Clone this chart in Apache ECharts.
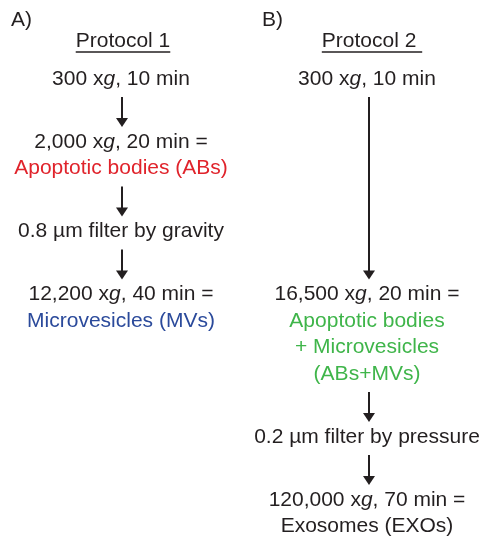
<!DOCTYPE html>
<html>
<head>
<meta charset="utf-8">
<script src="https://cdn.jsdelivr.net/npm/echarts@6/dist/echarts.min.js"></script>
<style>
  html, body { margin: 0; padding: 0; background: #fff; }
  #chart { width: 485px; height: 540px; }
</style>
</head>
<body>
<div id="chart"></div>
<script>
// 面板标签与标题
const panelLabels = ["A)", "B)"];
const protocolNames = ["Protocol 1", "Protocol 2 "];

// 每一步的文字行；{g|g} 为斜体 g，{ab|} {mv|} {mix|} 为彩色结果
const protocol1Steps = [
  ["300 x{g|g}, 10 min"],
  ["2,000 x{g|g}, 20 min =", "{ab|Apoptotic bodies (ABs)}"],
  ["0.8 µm filter by gravity"],
  ["12,200 x{g|g}, 40 min =", "{mv|Microvesicles (MVs)}"]
];
const protocol2Steps = [
  ["300 x{g|g}, 10 min"],
  ["16,500 x{g|g}, 20 min =", "{mix|Apoptotic bodies}", "{mix|+ Microvesicles}", "{mix|(ABs+MVs)}"],
  ["0.2 µm filter by pressure"],
  ["120,000 x{g|g}, 70 min =", "Exosomes (EXOs)"]
];

const FONT = "'Liberation Sans', Arial, Helvetica, sans-serif";
const FONT_SIZE = 21;
const DARK = "#231f20";
const RED = "#e0232b";
const BLUE = "#2b4a9b";
const GREEN = "#3fb54a";

// 布局（像素坐标，坐标轴与画布一一对应）
const COL_X = [121, 367];
const ARROW_X = [122, 369];
const HEADER_X = [123, 372];
const LABEL_X = [11, 262];
const LABEL_Y = 20.5;
const HEADER_Y = 41.5;
const TOP_Y = 79;
const LINE = 26.5;
const GAP = 63;

function layoutColumn(steps, alignTo) {
  let y = TOP_Y;
  const out = [];
  steps.forEach((lines, i) => {
    if (alignTo && alignTo[i] != null) y = alignTo[i];
    const last = y + (lines.length - 1) * LINE;
    out.push({ lines: lines, y0: y, y1: last });
    y = last + GAP;
  });
  return out;
}

const col1 = layoutColumn(protocol1Steps);
// protocol 2 第二步与 protocol 1 第四步同一行
const col2 = layoutColumn(protocol2Steps, { 1: col1[3].y0 });
const columns = [col1, col2];

const textData = [];
const arrowData = [];
columns.forEach((col, c) => {
  col.forEach((step, i) => {
    step.lines.forEach((t, k) => {
      textData.push([COL_X[c], step.y0 + k * LINE, t]);
    });
    if (i > 0) {
      arrowData.push([ARROW_X[c], col[i - 1].y1 + 18, step.y0 - 15]);
    }
  });
});

const headerData = protocolNames.map((t, c) => [HEADER_X[c], HEADER_Y, t]);
const labelData = panelLabels.map((t, c) => [LABEL_X[c], LABEL_Y, t]);

// 下划线宽度按文字实际宽度测量
const ctx = document.createElement("canvas").getContext("2d");
ctx.font = FONT_SIZE + "px " + FONT;
const underlineData = protocolNames.map((t, c) => {
  const w = ctx.measureText(t).width;
  return [HEADER_X[c] - w / 2, HEADER_X[c] + w / 2, 52];
});

const baseLabel = {
  show: true,
  position: "inside",
  color: DARK,
  fontSize: FONT_SIZE,
  fontFamily: FONT,
  align: "center",
  verticalAlign: "middle",
  formatter: p => p.data[2],
  rich: {
    g: { fontStyle: "italic", fontSize: FONT_SIZE, fontFamily: FONT, color: DARK },
    ab: { fontSize: FONT_SIZE, fontFamily: FONT, color: RED },
    mv: { fontSize: FONT_SIZE, fontFamily: FONT, color: BLUE },
    mix: { fontSize: FONT_SIZE, fontFamily: FONT, color: GREEN }
  }
};

const textSeries = (data, label) => ({
  type: "scatter",
  silent: true,
  symbolSize: 0,
  itemStyle: { opacity: 1 },
  data: data,
  label: label
});

const myChart = echarts.init(document.getElementById("chart"));
myChart.setOption({
  animation: false,
  grid: { left: 0, right: 0, top: 0, bottom: 0 },
  xAxis: { type: "value", min: 0, max: 485, show: false },
  yAxis: { type: "value", min: 0, max: 540, inverse: true, show: false },
  series: [
    textSeries(textData, baseLabel),
    textSeries(headerData, baseLabel),
    textSeries(labelData, Object.assign({}, baseLabel, { position: "insideLeft", align: "left", distance: 0 })),
    {
      type: "custom",
      silent: true,
      data: underlineData,
      renderItem(params, api) {
        const a = api.coord([api.value(0), api.value(2)]);
        const b = api.coord([api.value(1), api.value(2)]);
        return {
          type: "line",
          shape: { x1: a[0], y1: a[1], x2: b[0], y2: b[1] },
          style: { stroke: DARK, lineWidth: 1.3 }
        };
      }
    },
    {
      type: "custom",
      silent: true,
      data: arrowData,
      renderItem(params, api) {
        const top = api.coord([api.value(0), api.value(1)]);
        const tip = api.coord([api.value(0), api.value(2)]);
        const headH = 9, headW = 6;
        return {
          type: "group",
          children: [
            {
              type: "line",
              shape: { x1: top[0], y1: top[1], x2: tip[0], y2: tip[1] - headH + 1 },
              style: { stroke: DARK, lineWidth: 2 }
            },
            {
              type: "polygon",
              shape: {
                points: [
                  [tip[0] - headW, tip[1] - headH],
                  [tip[0] + headW, tip[1] - headH],
                  [tip[0], tip[1]]
                ]
              },
              style: { fill: DARK }
            }
          ]
        };
      }
    }
  ]
});
</script>
</body>
</html>
